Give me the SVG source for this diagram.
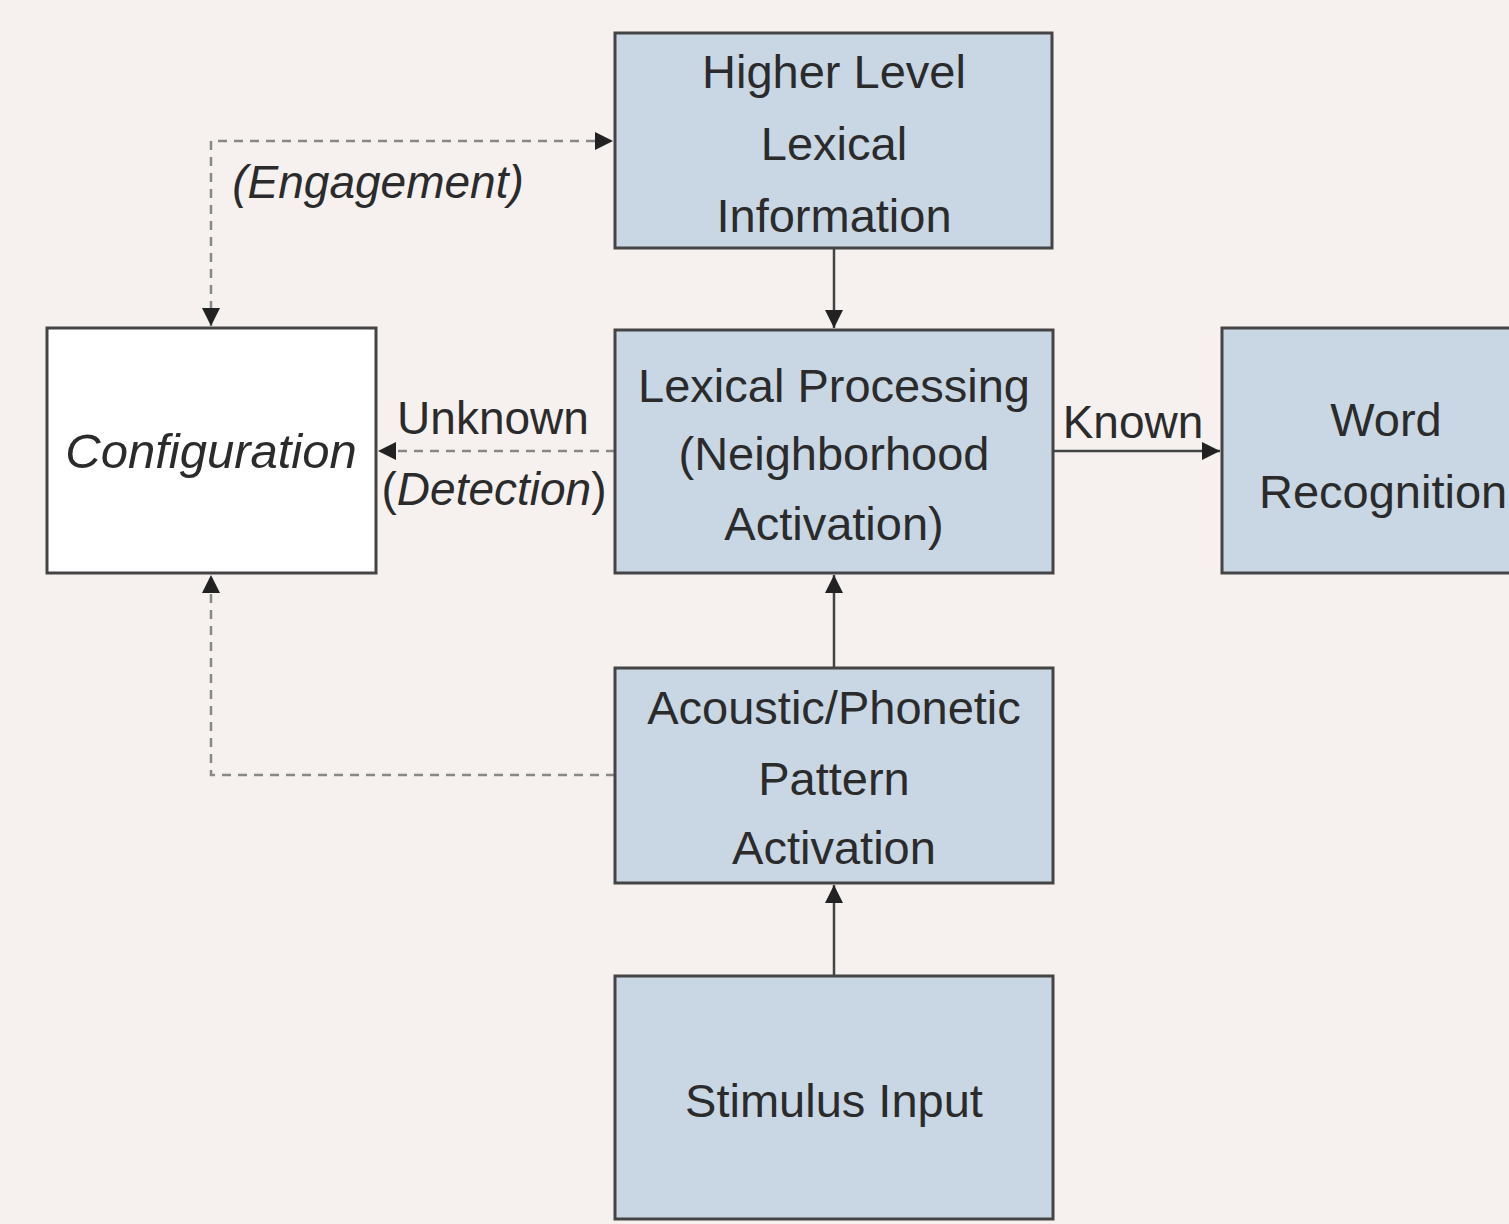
<svg xmlns="http://www.w3.org/2000/svg" width="1509" height="1224" viewBox="0 0 1509 1224">
<style>
.box{fill:#c9d6e3;stroke:#444;stroke-width:3}
.wbox{fill:#fff;stroke:#444;stroke-width:3}
.t{font-family:"Liberation Sans",Arial,sans-serif;font-size:47px;fill:#2b2b2b;text-anchor:middle}
.l{font-family:"Liberation Sans",Arial,sans-serif;font-size:46px;fill:#2b2b2b;text-anchor:middle}
.i{font-style:italic}
.st{text-anchor:start}
.solid{fill:none;stroke:#444;stroke-width:2.5}
.dash{fill:none;stroke:#888;stroke-width:2.5;stroke-dasharray:9 7}
</style>
<defs>
<marker id="ahb" viewBox="0 0 10 10" refX="10" refY="5" markerWidth="18" markerHeight="18" markerUnits="userSpaceOnUse" orient="auto-start-reverse">
<path d="M0,0 L10,5 L0,10 z" fill="#222"/>
</marker>
</defs>
<rect width="1509" height="1224" fill="#f6f1ef"/>
<g id="connectors">
<path class="dash" d="M211,326 V141 H613" marker-start="url(#ahb)" marker-end="url(#ahb)"/>
<path class="solid" d="M834,248 V328" marker-end="url(#ahb)"/>
<path class="dash" d="M615,451 H378" marker-end="url(#ahb)"/>
<path class="solid" d="M1053,451 H1220" marker-end="url(#ahb)"/>
<path class="solid" d="M834,668 V575" marker-end="url(#ahb)"/>
<path class="dash" d="M615,775 H211 V575" marker-end="url(#ahb)"/>
<path class="solid" d="M834,976 V885" marker-end="url(#ahb)"/>
<text class="l i" x="378" y="198">(Engagement)</text>
<text class="l" x="493" y="434">Unknown</text>
<text class="l" x="494" y="505">(<tspan class="i">Detection</tspan>)</text>
<text class="l" x="1133" y="438">Known</text>
</g>
<g id="higher">
<rect class="box" x="615" y="33" width="437" height="215"/>
<text class="t" x="834" y="88">Higher Level</text>
<text class="t" x="834" y="160">Lexical</text>
<text class="t" x="834" y="232">Information</text>
</g>
<g id="configuration">
<rect class="wbox" x="47" y="328" width="329" height="245"/>
<text class="t i" x="211" y="468" style="font-size:49px">Configuration</text>
</g>
<g id="lexical">
<rect class="box" x="615" y="330" width="438" height="243"/>
<text class="t" x="834" y="402">Lexical Processing</text>
<text class="t" x="834" y="470">(Neighborhood</text>
<text class="t" x="834" y="540">Activation)</text>
</g>
<g id="word">
<rect class="box" x="1222" y="328" width="300" height="245"/>
<text class="t" x="1386" y="436">Word</text>
<text class="t st" x="1259" y="508">Recognition</text>
</g>
<g id="acoustic">
<rect class="box" x="615" y="668" width="438" height="215"/>
<text class="t" x="834" y="724">Acoustic/Phonetic</text>
<text class="t" x="834" y="795">Pattern</text>
<text class="t" x="834" y="864">Activation</text>
</g>
<g id="stimulus">
<rect class="box" x="615" y="976" width="438" height="243"/>
<text class="t" x="834" y="1117">Stimulus Input</text>
</g>
</svg>
